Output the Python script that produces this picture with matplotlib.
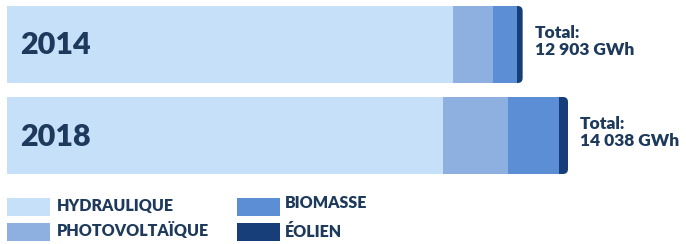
import matplotlib.pyplot as plt
from matplotlib.patches import FancyBboxPatch, Rectangle

# production by source, GWh
years = ['2014', '2018']
hydraulique = [11161, 10911]
photovoltaique = [1001, 1627]
biomasse = [601, 1276]
eolien = [140, 224]
totals = ['12 903 GWh', '14 038 GWh']

sources = ['HYDRAULIQUE', 'PHOTOVOLTAÏQUE', 'BIOMASSE', 'ÉOLIEN']
colors = ['#c6e0fa', '#8eb0e1', '#5b8ed5', '#173e78']
text_color = '#1d3a5c'

plt.rcParams['font.family'] = ['Lato', 'DejaVu Sans']

W, H = 686, 244
fig = plt.figure(figsize=(W / 100, H / 100), dpi=100)
ax = fig.add_axes([0, 0, 1, 1])
ax.axis('off')

gwh_per_px = 14038 / 561.0
x0_px = 7
ax.set_xlim(-x0_px * gwh_per_px, (W - x0_px) * gwh_per_px)
ax.set_ylim(H, 0)

bar_y = [44.5, 135.5]
bar_h = 77

series = [hydraulique, photovoltaique, biomasse, eolien]
for i, year in enumerate(years):
    total = sum(s[i] for s in series)
    # rounded right end of the bar
    clip = FancyBboxPatch((-20 * gwh_per_px, bar_y[i] - bar_h / 2),
                          total + 20 * gwh_per_px, bar_h,
                          boxstyle='round,pad=0,rounding_size=%f' % (5 * gwh_per_px),
                          mutation_aspect=1 / gwh_per_px,
                          transform=ax.transData, facecolor='none', edgecolor='none')
    ax.add_patch(clip)
    left = 0
    for s, c in zip(series, colors):
        bars = ax.barh(bar_y[i], s[i], left=left, height=bar_h, color=c, linewidth=0)
        for b in bars:
            b.set_clip_path(clip)
        left += s[i]
    ax.text(13 * gwh_per_px, bar_y[i] + 1, year, fontsize=22, fontweight='heavy',
            color=text_color, va='center', ha='left')
    ax.text(total + 12 * gwh_per_px, bar_y[i] - 3, 'Total:\n' + totals[i],
            fontsize=12.5, fontweight='heavy', color=text_color, va='center',
            ha='left', linespacing=1.05)


def px(x, y):
    return x / W, 1 - y / H


# legend
leg_x = [7, 7, 237, 237]
leg_y = [198, 223, 198, 223]
leg_text_y = [206, 231, 203, 232]
leg_text_x = [57, 57, 285, 285]
for name, c, lx, ly, ty, tx in zip(sources, colors, leg_x, leg_y, leg_text_y, leg_text_x):
    fx, fy = px(lx, ly + 18)
    fig.patches.append(Rectangle((fx, fy), 43 / W, 18 / H, transform=fig.transFigure,
                                 facecolor=c, edgecolor='none'))
    tx_, ty_ = px(tx, ty)
    fig.text(tx_, ty_, name, fontsize=11.5, fontweight='heavy', color=text_color,
             va='center', ha='left')

fig.savefig('out.png', dpi=100)
